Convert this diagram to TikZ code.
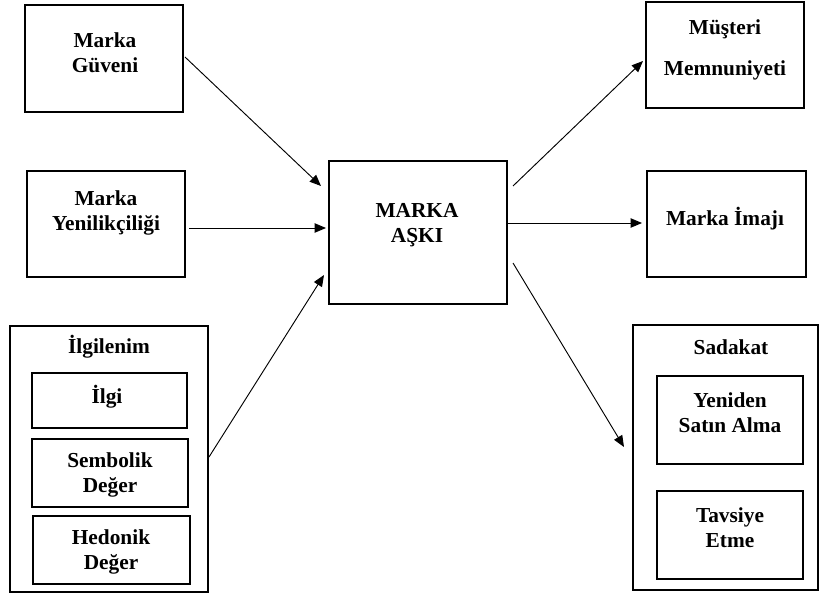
\documentclass[tikz,border=0pt]{standalone}
\usepackage{fontspec}
\setmainfont{Liberation Serif}
\usetikzlibrary{calc,arrows.meta}
\begin{document}
\begin{tikzpicture}[x=0.75pt,y=-0.75pt,
  box/.style={draw,line width=1.5pt,inner sep=0pt,outer sep=0pt},
  lbl/.style={inner sep=0pt,align=center,font=\bfseries\fontsize{16}{19}\selectfont},
  arr/.style={-{Triangle[length=8.5pt,width=7pt]},line width=0.7pt}]
\useasboundingbox (0,0) rectangle (820,596);
% boxes
\node[box,minimum width=158*0.75pt,minimum height=107*0.75pt] (guv) at (104,58.5) {};
\node[box,minimum width=158*0.75pt,minimum height=106*0.75pt] (yen) at (106,224) {};
\node[box,minimum width=178*0.75pt,minimum height=143*0.75pt] (ask) at (418,232.5) {};
\node[box,minimum width=158*0.75pt,minimum height=106*0.75pt] (mus) at (725,55) {};
\node[box,minimum width=159*0.75pt,minimum height=106*0.75pt] (ima) at (726.5,224) {};
\node[box,minimum width=198*0.75pt,minimum height=266*0.75pt] (ilg) at (109,459) {};
\node[box,minimum width=155*0.75pt,minimum height=55*0.75pt] (ilgi) at (109.5,400.5) {};
\node[box,minimum width=156*0.75pt,minimum height=68*0.75pt] (sem) at (110,473) {};
\node[box,minimum width=157*0.75pt,minimum height=68*0.75pt] (hed) at (111.5,550) {};
\node[box,minimum width=185*0.75pt,minimum height=265*0.75pt] (sad) at (725.5,457.5) {};
\node[box,minimum width=146*0.75pt,minimum height=88*0.75pt] (ysa) at (730,420) {};
\node[box,minimum width=146*0.75pt,minimum height=88*0.75pt] (tav) at (730,535) {};
% labels
\node[lbl] (tguv) at (105,53) {Marka\\Güveni};
\node[lbl] (tyen) at (106,213) {Marka\\Yenilikçiliği};
\node[lbl] (task) at (417,225) {MARKA\\AŞKI};
\node[lbl,font=\bfseries\fontsize{16}{31}\selectfont] (tmus) at (725,50) {Müşteri\\Memnuniyeti};
\node[lbl] (tima) at (725,219) {Marka İmajı};
\node[lbl] (tilg) at (109,347) {İlgilenim};
\node[lbl] (tilgi) at (107,397) {İlgi};
\node[lbl] (tsem) at (110,475) {Sembolik\\Değer};
\node[lbl] (thed) at (111,552) {Hedonik\\Değer};
\node[lbl] (tsad) at (731,347) {Sadakat};
\node[lbl] (tysa) at (730,413) {Yeniden\\Satın Alma};
\node[lbl] (ttav) at (730,528) {Tavsiye\\Etme};
% arrows
\draw[arr] ($(guv.east)+(2,-1.5)$) -- ($(ask.west)+(-8,-46.5)$);
\draw[arr] ($(yen.east)+(4,4)$) -- ($(ask.west)+(-3,-4.5)$);
\draw[arr] ($(ilg.east)+(1,-2)$) -- ($(ask.west)+(-5,42.5)$);
\draw[arr] ($(ask.east)+(6,-46.5)$) -- ($(mus.west)+(-3,6)$);
\draw[arr] ($(ask.east)+(0,-9.5)$) -- ($(ima.west)+(-5,-1)$);
\draw[arr] ($(ask.east)+(6,30.5)$) -- ($(sad.west)+(-9,-10.5)$);
\end{tikzpicture}
\end{document}
